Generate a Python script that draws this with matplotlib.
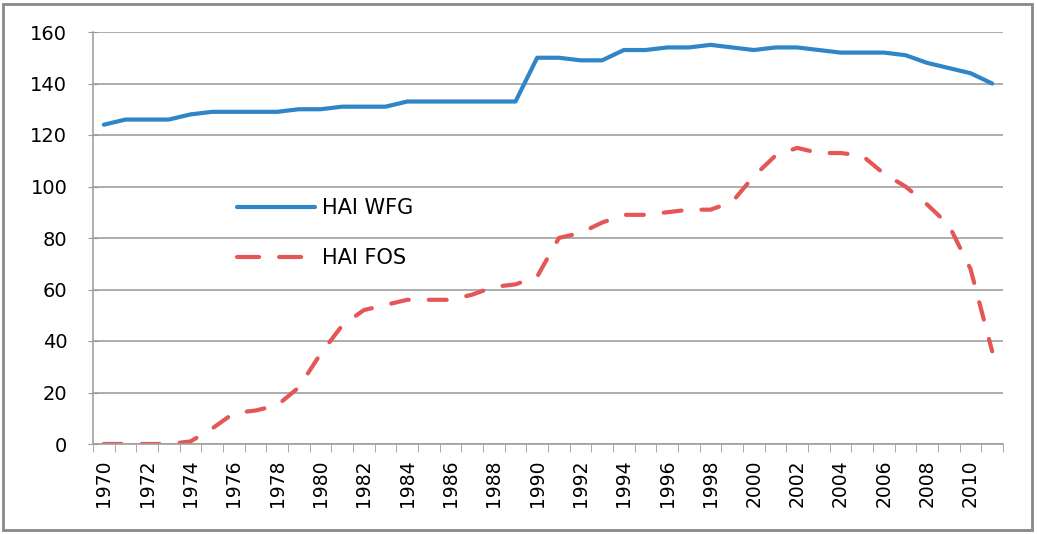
import matplotlib
matplotlib.use("Agg")
import matplotlib.pyplot as plt
import numpy as np

years = list(range(1970, 2012))
wfg = [124, 126, 126, 126, 128, 129, 129, 129, 129, 130, 130, 131, 131, 131, 133, 133,
       133, 133, 133, 133, 150, 150, 149, 149, 153, 153, 154, 154, 155, 154, 153, 154,
       154, 153, 152, 152, 152, 151, 148, 146, 144, 140]
fos = [0, 0, 0, 0, 1, 6, 12, 13, 15, 22, 35, 46, 52, 54, 56, 56,
       56, 58, 61, 62, 65, 80, 82, 86, 89, 89, 90, 91, 91, 94, 104, 112,
       115, 113, 113, 112, 105, 100, 93, 85, 68, 36]
y_ticks = [0, 20, 40, 60, 80, 100, 120, 140, 160]

plt.rcParams['font.family'] = ['DejaVu Sans']

fig = plt.figure(figsize=(10.37, 5.34), dpi=100)
ax = fig.add_axes([93 / 1037, 1 - 444 / 534, (1003 - 93) / 1037, (444 - 32) / 534])

x = np.arange(len(years))
ax.plot(x, wfg, color='#2E86C8', lw=3, solid_capstyle='round', label='HAI WFG')
ax.plot(x, fos, color='#E55656', lw=3, dashes=(4.3, 4.8), dash_capstyle='round', label='HAI FOS')

ax.set_xlim(-0.5, len(years) - 0.5)
ax.set_ylim(0, 160)
ax.set_yticks(y_ticks)
ax.set_xticks(x[::2])
ax.set_xticklabels([str(y) for y in years[::2]], rotation=90)
ax.set_xticks(np.arange(len(years) + 1) - 0.5, minor=True)
ax.tick_params(axis='x', which='major', length=0, labelsize=13.5, pad=11)
ax.tick_params(axis='x', which='minor', length=6, color='#999999', direction='out')
ax.tick_params(axis='y', length=7, direction='inout', color='#999999', labelsize=14, pad=15)

ax.grid(axis='y', color='#A0A0A0', lw=1.2)
ax.set_axisbelow(True)
for s in ['top', 'right']:
    ax.spines[s].set_visible(False)
for s in ['left', 'bottom']:
    ax.spines[s].set_color('#A0A0A0')
    ax.spines[s].set_linewidth(1.2)

leg = ax.legend(loc='center left', bbox_to_anchor=(0.158, 0.512), frameon=False, fontsize=15,
                handlelength=3.75, labelspacing=1.45, handletextpad=0.35,
                borderpad=0, borderaxespad=0)
leg.get_lines()[1].set_dashes((5.3, 4.8))

fig.patches.append(plt.Rectangle((3 / 1037, 4 / 534), 1029 / 1037, 526 / 534,
                                 transform=fig.transFigure, fill=False,
                                 edgecolor='#888888', lw=2))

fig.savefig('out.png', dpi=100)
